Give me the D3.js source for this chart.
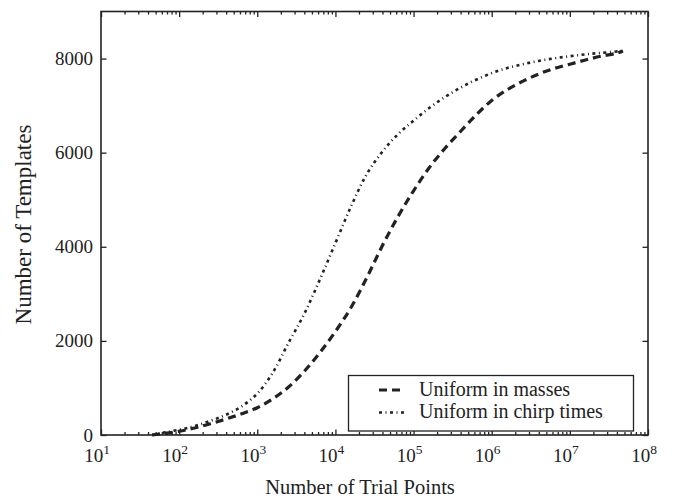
<!DOCTYPE html>
<html>
<head>
<meta charset="utf-8">
<script src="https://cdn.jsdelivr.net/npm/d3@7"></script>
<style>
  html, body { margin: 0; padding: 0; background: #fff; }
  svg { display: block; }
</style>
</head>
<body>
<svg id="chart" width="681" height="502"></svg>
<script>
// ---- data ----
const massesTrials = [45, 63, 100, 158, 251, 398, 631, 1000, 1585, 2512, 3981, 6310, 10000, 15849, 25119, 39811, 63096, 100000, 158489, 251189, 398107, 630957, 1000000, 1584893, 2511886, 3981072, 6309573, 10000000, 15848932, 25118864, 39810717, 47863009];
const massesTemplates = [0, 30, 80, 150, 240, 340, 450, 580, 770, 1020, 1350, 1750, 2200, 2710, 3340, 4020, 4640, 5190, 5680, 6090, 6450, 6800, 7110, 7340, 7520, 7670, 7790, 7880, 7970, 8050, 8115, 8160];

const chirpTrials = [45, 63, 100, 158, 251, 398, 631, 1000, 1585, 2512, 3981, 6310, 10000, 15849, 25119, 39811, 63096, 100000, 158489, 251189, 398107, 630957, 1000000, 1584893, 2511886, 3981072, 6309573, 10000000, 15848932, 25118864, 45708819];
const chirpTemplates = [0, 50, 110, 190, 300, 430, 610, 880, 1330, 1960, 2570, 3300, 4080, 4860, 5540, 6020, 6390, 6680, 6950, 7180, 7380, 7550, 7690, 7800, 7880, 7950, 8005, 8050, 8090, 8120, 8160];

const xTickExponents = [1, 2, 3, 4, 5, 6, 7, 8];
const yTicks = [0, 2000, 4000, 6000, 8000];
const seriesNames = ["Uniform in masses", "Uniform in chirp times"];
const xTitle = "Number of Trial Points";
const yTitle = "Number of Templates";

// ---- layout ----
const FONT = "'Liberation Serif', 'Times New Roman', Tinos, 'DejaVu Serif', serif";
const svg = d3.select("#chart").style("font-family", FONT);
const L = 101, R = 648, T = 11.5, B = 435;
const ink = "#222";

const x = d3.scaleLog().domain([1e1, 1e8]).range([L, R]);
const y = d3.scaleLinear().domain([0, 9000]).range([B, T]);

// minor ticks
const minor = [];
for (let e = 1; e < 8; e++) for (let m = 2; m <= 9; m++) minor.push(m * Math.pow(10, e));
const major = xTickExponents.map(e => Math.pow(10, e));

// axes with inward ticks
svg.append("g").attr("transform", `translate(0,${B})`)
  .call(d3.axisBottom(x).tickValues(minor).tickSize(-3).tickFormat(""));
svg.append("g").attr("transform", `translate(0,${B})`)
  .call(d3.axisBottom(x).tickValues(major).tickSize(-5.5).tickFormat(""));
svg.append("g").attr("transform", `translate(0,${T})`)
  .call(d3.axisTop(x).tickValues(minor).tickSize(-3).tickFormat(""));
svg.append("g").attr("transform", `translate(0,${T})`)
  .call(d3.axisTop(x).tickValues(major).tickSize(-5.5).tickFormat(""));
svg.append("g").attr("transform", `translate(${L},0)`)
  .call(d3.axisLeft(y).tickValues(yTicks).tickSize(-5.5).tickFormat(""));
svg.append("g").attr("transform", `translate(${R},0)`)
  .call(d3.axisRight(y).tickValues(yTicks).tickSize(-5.5).tickFormat(""));

svg.selectAll(".domain").remove();
svg.selectAll(".tick line").attr("stroke", ink).attr("stroke-width", 1.3);

// frame
svg.append("rect").attr("x", L).attr("y", T).attr("width", R - L).attr("height", B - T)
  .attr("fill", "none").attr("stroke", ink).attr("stroke-width", 1.6);

// x tick labels 10^n
xTickExponents.forEach(e => {
  const t = svg.append("text").attr("x", x(Math.pow(10, e)) - 4).attr("y", 462)
    .attr("text-anchor", "middle").attr("font-size", 19).attr("fill", ink)
    .attr("font-family", FONT);
  t.append("tspan").text("10");
  t.append("tspan").attr("dy", -8).attr("font-size", 13.5).text(e);
});

// y tick labels
yTicks.forEach(v => {
  svg.append("text").attr("x", 93).attr("y", y(v) + 6.5).attr("fill", ink)
    .attr("font-family", FONT)
    .attr("text-anchor", "end").attr("font-size", 19).text(v);
});

// axis titles
svg.append("text").attr("x", 360).attr("y", 494).attr("text-anchor", "middle")
  .attr("font-family", FONT).attr("fill", ink)
  .attr("font-size", 20.5).text(xTitle);
svg.append("text").attr("transform", `translate(31,224.5) rotate(-90)`)
  .attr("font-family", FONT).attr("fill", ink)
  .attr("text-anchor", "middle").attr("font-size", 23).text(yTitle);

// lines
const line = d3.line().x(d => x(d[0])).y(d => y(d[1])).curve(d3.curveCatmullRom.alpha(0.5));
const styles = [
  { dash: "8,5", width: 3.2 },
  { dash: "3,3.5,1,3.5", width: 2.6 }
];
const series = [
  d3.zip(massesTrials, massesTemplates),
  d3.zip(chirpTrials, chirpTemplates)
];
series.forEach((s, i) => {
  svg.append("path").datum(s).attr("d", line)
    .attr("fill", "none").attr("stroke", ink)
    .attr("stroke-width", styles[i].width).attr("stroke-dasharray", styles[i].dash);
});

// legend
svg.append("rect").attr("x", 348.5).attr("y", 375.5).attr("width", 285).attr("height", 55.5)
  .attr("fill", "#fff").attr("stroke", ink).attr("stroke-width", 1.3);
const rows = [390, 412.5];
seriesNames.forEach((n, i) => {
  svg.append("line").attr("x1", 379).attr("x2", 405).attr("y1", rows[i]).attr("y2", rows[i])
    .attr("stroke", ink).attr("stroke-width", styles[i].width).attr("stroke-dasharray", styles[i].dash);
  svg.append("text").attr("x", 419).attr("y", rows[i] + 5.5).attr("font-size", 20)
    .attr("font-family", FONT).attr("fill", ink).text(n);
});
</script>
</body>
</html>
